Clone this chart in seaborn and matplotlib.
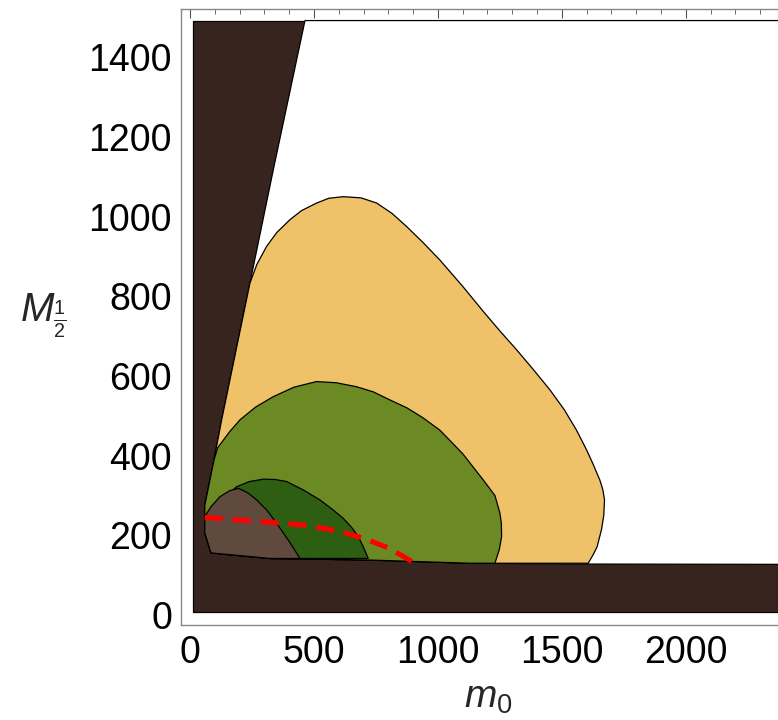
import matplotlib
matplotlib.use('Agg')
import matplotlib.pyplot as plt
from matplotlib.ticker import MultipleLocator
import pandas as pd
import seaborn as sns

# outer excluded box (m0, M1/2)
box_x = [11, 2600, 2600, 11]
box_y = [8, 8, 1492, 1492]

# allowed (white) region boundary
allowed_x = [464, 336, 242, 128, 97, 70, 60, 60, 85, 323, 726, 1129, 1600, 2600, 2600]
allowed_y = [1492, 1117, 833, 490, 389, 306, 276, 206, 156, 142, 138, 130, 128, 127, 1492]

# yellow region
yellow_x = [60, 85, 323, 726, 1129, 1606, 1625, 1642, 1660, 1669, 1672, 1665, 1653, 1625,
            1600, 1559, 1510, 1452, 1385, 1317, 1250, 1183, 1100, 1008, 940, 874, 815,
            753, 690, 618, 560, 511, 450, 403, 350, 309, 270, 242, 128, 97, 70, 60]
yellow_y = [206, 156, 142, 138, 130, 130, 150, 171, 215, 250, 289, 315, 339, 380,
            414, 464, 515, 565, 616, 666, 713, 762, 825, 891, 935, 975, 1008,
            1034, 1047, 1050, 1046, 1034, 1015, 992, 960, 925, 880, 833, 490, 389, 306, 276]

# light green region
green_x = [60, 85, 323, 726, 1129, 1230, 1248, 1257, 1256, 1250, 1230, 1183, 1100, 1008,
           940, 875, 806, 740, 672, 590, 511, 420, 336, 265, 202, 160, 112, 97, 70, 60]
green_y = [206, 156, 142, 138, 130, 130, 165, 197, 230, 256, 300, 339, 405, 464,
           495, 520, 540, 560, 573, 583, 586, 572, 548, 522, 490, 460, 420, 389, 306, 276]

# dark green region
dgreen_x = [150, 188, 240, 296, 345, 390, 457, 524, 575, 618, 652, 679, 700, 719, 323, 150]
dgreen_y = [300, 322, 335, 341, 340, 335, 314, 289, 265, 243, 220, 197, 170, 142, 142, 152]

# brown region
brown_x = [60, 85, 121, 160, 195, 230, 269, 309, 350, 400, 444, 323, 85, 60]
brown_y = [247, 272, 297, 312, 318, 308, 289, 264, 230, 185, 142, 142, 156, 206]

# red dashed curve
red_x = [60, 255, 457, 591, 699, 806, 907]
red_y = [245, 236, 226, 212, 193, 167, 130]

sns.set_theme(style='white')
plt.rcParams['font.family'] = ['Liberation Sans', 'DejaVu Sans']
plt.rcParams['mathtext.fontset'] = 'custom'
plt.rcParams['mathtext.rm'] = 'Liberation Sans'
plt.rcParams['mathtext.it'] = 'Liberation Sans:italic'

fig = plt.figure(figsize=(7.78, 7.2), dpi=100)
ax = fig.add_axes([181 / 778, 1 - 625 / 720, (790 - 181) / 778, (625 - 9) / 720])

edge = dict(edgecolor='black', linewidth=0.9)
ax.fill(box_x, box_y, facecolor='#37241f', **edge)
ax.fill(allowed_x, allowed_y, facecolor='white', **edge)
ax.fill(yellow_x, yellow_y, facecolor='#efc26a', **edge)
ax.fill(green_x, green_y, facecolor='#6b8a23', **edge)
ax.fill(dgreen_x, dgreen_y, facecolor='#2d5e12', **edge)
ax.fill(brown_x, brown_y, facecolor='#604a3d', **edge)

red = pd.DataFrame({'m0': red_x, 'M': red_y})
sns.lineplot(data=red, x='m0', y='M', sort=False, estimator=None, ax=ax,
             color='red', linewidth=3.6, dashes=False)
ax.lines[-1].set_dashes([3.6, 2.0])
ax.lines[-1].set_dash_capstyle('butt')

ax.set_xlim(-36, 2420)
ax.set_ylim(-25, 1521)
ax.xaxis.set_major_locator(MultipleLocator(500))
ax.xaxis.set_minor_locator(MultipleLocator(100))
ax.yaxis.set_major_locator(MultipleLocator(200))
ax.yaxis.set_minor_locator(MultipleLocator(50))

for s in ax.spines.values():
    s.set_color('#888888')
    s.set_linewidth(1.0)
ax.tick_params(which='both', direction='in', top=True, right=True, color='#555555',
               labelsize=27, labelcolor='black')
ax.tick_params(which='major', length=6.5, width=0.8)
ax.tick_params(which='minor', length=3.6, width=0.6)
ax.tick_params(axis='x', pad=7)
ax.tick_params(axis='y', pad=6.5)

ax.set_xlabel(r'$m_0$', fontsize=28)
ax.set_ylabel(r'$M_{\frac{1}{2}}$', fontsize=29, rotation=0, ha='center', va='center')
ax.xaxis.set_label_coords(0.505, -0.09)
ax.yaxis.set_label_coords(-0.227, 0.5016)

fig.savefig('out.png', dpi=100)
